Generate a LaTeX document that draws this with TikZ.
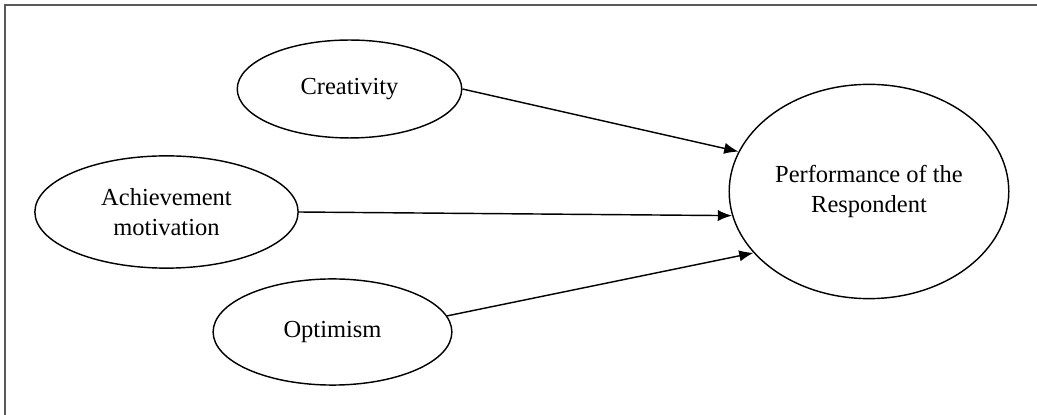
\documentclass[tikz,border=0pt]{standalone}
\usepackage{fontspec}
\setmainfont{Liberation Serif}
\usetikzlibrary{shapes.geometric,arrows.meta}

\begin{document}
\begin{tikzpicture}[x=0.49pt, y=-0.49pt,
  var/.style={draw, ellipse, line width=0.7pt, inner sep=0pt, align=center,
    font=\fontsize{12}{14.7}\selectfont},
  link/.style={-{Latex[length=7pt,width=5.5pt]}, line width=0.7pt}]
  \useasboundingbox (0,0) rectangle (1037,415);
  \draw[line width=1pt, black!65] (1037,5) -- (5,5) -- (5,415);

  \node (cre) [var, minimum width=110pt, minimum height=48pt] at (349.5,89) {Creativity};
  \node (ach) [var, minimum width=129pt, minimum height=55pt] at (166.5,212) {Achievement\\motivation};
  \node (opt) [var, minimum width=117pt, minimum height=52pt] at (332.5,332) {Optimism};
  \node (perf) [var, minimum width=137pt, minimum height=105pt] at (869,191.5) {Performance of the\\Respondent};

  \path[link]
  (cre.east) edge (perf.163)
  (ach.east) edge (perf.190)
  (opt.8) edge (perf.208);
\end{tikzpicture}
\end{document}
